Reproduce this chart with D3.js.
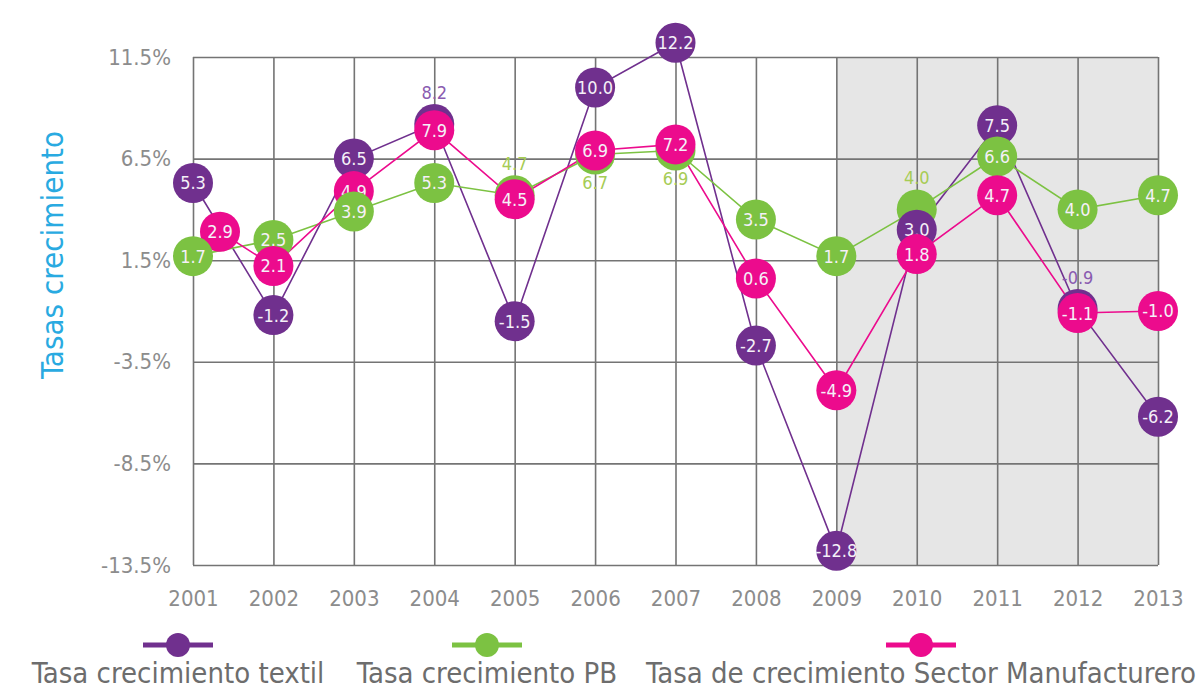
<!DOCTYPE html>
<html>
<head>
<meta charset="utf-8">
<script src="https://cdn.jsdelivr.net/npm/d3@7"></script>
<style>
body { margin: 0; background: #fff; }
text { font-family: "DejaVu Sans Condensed", "DejaVu Sans", sans-serif; font-stretch: condensed; }
</style>
</head>
<body>
<div id="chart"></div>
<script>
// data
var years = [2001, 2002, 2003, 2004, 2005, 2006, 2007, 2008, 2009, 2010, 2011, 2012, 2013];
var textil = [5.3, -1.2, 6.5, 8.2, -1.5, 10.0, 12.2, -2.7, -12.8, 3.0, 7.5, -0.9, -6.2];
var pb = [1.7, 2.5, 3.9, 5.3, 4.7, 6.7, 6.9, 3.5, 1.7, 4.0, 6.6, 4.0, 4.7];
var manuf = [2.9, 2.1, 4.9, 7.9, 4.5, 6.9, 7.2, 0.6, -4.9, 1.8, 4.7, -1.1, -1.0];
var yTicks = [11.5, 6.5, 1.5, -3.5, -8.5, -13.5];
var seriesNames = ["Tasa crecimiento textil", "Tasa crecimiento PB", "Tasa de crecimiento Sector Manufacturero"];
var shadeYears = [2009, 2013];
var yTitle = "Tasas crecimiento";

var width = 1201,
    height = 689,
    margin = {top: 57, right: 43, bottom: 124, left: 193};

var svg = d3.select("#chart")
    .append("svg")
    .attr("width", width)
    .attr("height", height);

var x = d3.scaleLinear().domain([2001, 2013]).range([margin.left, width - margin.right]);
var y = d3.scaleLinear().domain([-13.5, 11.5]).range([height - margin.bottom, margin.top]);

// grey band
svg.append("rect")
    .attr("x", x(shadeYears[0]))
    .attr("y", y(11.5))
    .attr("width", x(shadeYears[1]) - x(shadeYears[0]))
    .attr("height", y(-13.5) - y(11.5))
    .attr("fill", "#e6e6e6");

// grid + axes
var yAxis = svg.append("g")
    .attr("transform", "translate(" + margin.left + ",0)")
    .call(d3.axisLeft(y).tickValues(yTicks)
        .tickSize(-(x(2013) - x(2001)))
        .tickPadding(22)
        .tickFormat(function(d) { return d.toFixed(1) + "%"; }));
yAxis.select(".domain").remove();
yAxis.selectAll("line").attr("stroke", "#747474").attr("stroke-width", 1.6);
yAxis.selectAll("text").attr("fill", "#8c8c8c").style("font-size", "22px");

var xAxis = svg.append("g")
    .attr("transform", "translate(0," + y(-13.5) + ")")
    .call(d3.axisBottom(x).tickValues(years)
        .tickSize(-(y(-13.5) - y(11.5)))
        .tickPadding(25)
        .tickFormat(d3.format("d")));
xAxis.select(".domain").remove();
xAxis.selectAll("line").attr("stroke", "#747474").attr("stroke-width", 1.6);
xAxis.selectAll("text").attr("fill", "#8c8c8c").style("font-size", "22px");

// y title
svg.append("text")
    .attr("transform", "translate(63,255) rotate(-90)")
    .attr("text-anchor", "middle")
    .attr("fill", "#29aae1")
    .style("font-size", "31px")
    .text(yTitle);

// nudge = small pixel shifts so crowded bubbles stay readable, as in the original
var series = [
    {key: "textil", values: textil, color: "#70308e", soft: "#8a5bb0",
     outside: {2004: -1, 2012: -1}, nudge: {}, nudgeY: {2011: -13}, z: 1, zAt: {}},
    {key: "pb", values: pb, color: "#7cc242", soft: "#a6cc55",
     outside: {2005: -1, 2006: 1, 2007: 1, 2010: -1}, nudge: {}, nudgeY: {},
     z: 0, zAt: {2001: 3, 2003: 3, 2011: 1.5}},
    {key: "manuf", values: manuf, color: "#ec0b8d", soft: "#ec0b8d",
     outside: {}, nudge: {2001: 27}, nudgeY: {2002: 18}, z: 2, zAt: {}}
];

function px(s, i) { return x(years[i]) + (s.nudge[years[i]] || 0); }
function py(s, i) { return y(s.values[i]) + (s.nudgeY[years[i]] || 0); }

// connecting lines first
series.forEach(function(s) {
    var line = d3.line()
        .x(function(d, i) { return px(s, i); })
        .y(function(d, i) { return py(s, i); });
    svg.append("path")
        .datum(s.values)
        .attr("d", line)
        .attr("fill", "none")
        .attr("stroke", s.color)
        .attr("stroke-width", 1.6);
});

// bubbles, stacked per point
var points = [];
series.forEach(function(s) {
    s.values.forEach(function(v, i) {
        var yr = years[i];
        points.push({s: s, i: i, v: v, z: (yr in s.zAt) ? s.zAt[yr] : s.z});
    });
});
points.sort(function(a, b) { return a.z - b.z; });

var pts = svg.append("g").selectAll("g")
    .data(points)
    .join("g")
    .attr("transform", function(d) { return "translate(" + px(d.s, d.i) + "," + py(d.s, d.i) + ")"; });
pts.append("circle")
    .attr("r", 20)
    .attr("fill", function(d) { return d.s.color; });
pts.append("text")
    .attr("text-anchor", "middle")
    .attr("dy", function(d) {
        var o = d.s.outside[years[d.i]];
        if (o === -1) return "-1.4em";
        if (o === 1) return "1.9em";
        return "0.36em";
    })
    .attr("fill", function(d) { return d.s.outside[years[d.i]] ? d.s.soft : "#f5f0f8"; })
    .style("font-size", "18px")
    .text(function(d) { return d.v.toFixed(1); });

// legend
var legendX = [178, 487, 921];
series.forEach(function(s, i) {
    var lg = svg.append("g").attr("transform", "translate(" + legendX[i] + ",645)");
    lg.append("line")
        .attr("x1", -35).attr("x2", 35)
        .attr("stroke", s.color).attr("stroke-width", 5);
    lg.append("circle").attr("r", 12).attr("fill", s.color);
    lg.append("text")
        .attr("y", 38)
        .attr("text-anchor", "middle")
        .attr("fill", "#6d6d6d")
        .style("font-size", "29px")
        .text(seriesNames[i]);
});
</script>
</body>
</html>
